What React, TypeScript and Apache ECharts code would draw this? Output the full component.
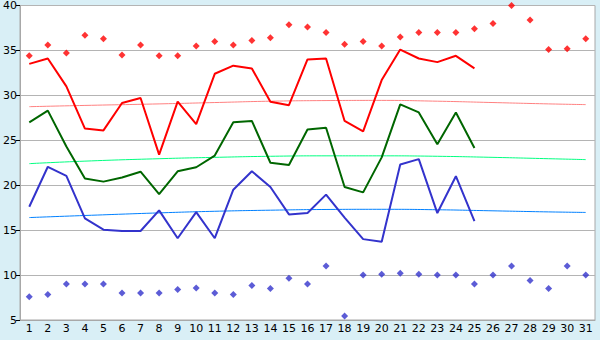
import React, { useEffect, useRef } from "react";
import * as echarts from "echarts";

const days = ["1","2","3","4","5","6","7","8","9","10","11","12","13","14","15","16","17","18","19","20","21","22","23","24","25","26","27","28","29","30","31"];
const yTicks = { min: 5, max: 40, interval: 5 };

const maxLine = [33.5, 34.1, 31.0, 26.3, 26.1, 29.15, 29.7, 23.4, 29.3, 26.8, 32.4, 33.3, 33.0, 29.3, 28.9, 34.0, 34.1, 27.15, 26.0, 31.7, 35.1, 34.1, 33.7, 34.4, 33.0];
const avgLine = [27.0, 28.3, 24.3, 20.75, 20.4, 20.85, 21.5, 19.0, 21.55, 22.0, 23.3, 27.0, 27.15, 22.5, 22.25, 26.2, 26.4, 19.8, 19.2, 23.1, 29.0, 28.1, 24.55, 28.1, 24.15];
const minLine = [17.6, 22.05, 21.05, 16.3, 15.05, 14.9, 14.9, 17.2, 14.1, 17.0, 14.1, 19.5, 21.55, 19.8, 16.75, 16.9, 18.95, 16.4, 14.0, 13.7, 22.3, 22.9, 16.9, 21.0, 16.0];

const maxPoints = [34.4, 35.6, 34.7, 36.7, 36.3, 34.5, 35.6, 34.4, 34.4, 35.5, 36.0, 35.6, 36.1, 36.4, 37.85, 37.6, 37.0, 35.7, 36.0, 35.5, 36.5, 37.0, 37.0, 37.0, 37.4, 38.0, 40.0, 38.4, 35.1, 35.2, 36.3];
const minPoints = [7.6, 7.85, 9.0, 9.0, 9.0, 8.0, 8.0, 8.0, 8.4, 8.55, 8.0, 7.85, 8.85, 8.5, 9.65, 9.0, 11.0, 5.45, 10.0, 10.1, 10.2, 10.1, 10.0, 10.0, 9.0, 10.0, 11.0, 9.4, 8.5, 11.0, 10.0];

const trendDays = ["1", "4", "8", "11", "14", "17", "20", "23", "26", "29", "31"];
const redTrend = [28.74, 28.88, 29.05, 29.2, 29.35, 29.42, 29.44, 29.35, 29.2, 29.05, 28.97];
const greenTrend = [22.4, 22.68, 22.95, 23.1, 23.22, 23.27, 23.27, 23.22, 23.1, 22.95, 22.85];
const blueTrend = [16.4, 16.63, 16.92, 17.1, 17.22, 17.3, 17.32, 17.27, 17.15, 17.03, 16.97];

const pair = (vals: number[]) => vals.map((v, i) => [trendDays[i], v]);

export default function App() {
  const ref = useRef<HTMLDivElement>(null);
  useEffect(() => {
    document.body.style.margin = "0";
    const chart = echarts.init(ref.current!, null, { renderer: "svg" });
    const font = "DejaVu Sans";
    const trend = (data: number[], color: string) => ({
      type: "line",
      data: pair(data),
      showSymbol: false,
      smooth: true,
      lineStyle: { color, width: 1 },
      z: 1,
    });
    const line = (data: number[], color: string) => ({
      type: "line",
      data,
      showSymbol: false,
      lineStyle: { color, width: 2 },
      z: 3,
    });
    chart.setOption({
      animation: false,
      backgroundColor: "#d9eff6",
      grid: {
        left: 20, top: 5, width: 575, height: 315,
        show: true, backgroundColor: "#ffffff", borderColor: "#a8a8a8", borderWidth: 1,
      },
      xAxis: {
        type: "category",
        data: days,
        boundaryGap: true,
        axisLine: { lineStyle: { color: "#a8a8a8" } },
        axisTick: { alignWithLabel: true, length: 5, lineStyle: { color: "#000000" } },
        axisLabel: { color: "#000000", fontFamily: font, fontSize: 11, margin: 3, interval: 0 },
        splitLine: { show: false },
      },
      yAxis: {
        type: "value",
        min: yTicks.min, max: yTicks.max, interval: yTicks.interval,
        axisLine: { show: true, lineStyle: { color: "#a8a8a8" } },
        axisTick: { show: true, length: 4, lineStyle: { color: "#000000" } },
        axisLabel: { color: "#000000", fontFamily: font, fontSize: 11, margin: 3 },
        splitLine: { lineStyle: { color: "#b4b4b4", width: 1 } },
      },
      series: [
        trend(redTrend, "#ff8080"),
        trend(greenTrend, "#00ff80"),
        trend(blueTrend, "#0080ff"),
        line(maxLine, "#ff0000"),
        line(avgLine, "#006600"),
        line(minLine, "#3333cc"),
        {
          type: "scatter", data: maxPoints, symbol: "diamond", symbolSize: 7,
          itemStyle: { color: "#ff0000" }, z: 4,
        },
        {
          type: "scatter", data: minPoints, symbol: "diamond", symbolSize: 7,
          itemStyle: { color: "#3333cc" }, z: 4,
        },
      ],
    });
    return () => chart.dispose();
  }, []);
  return <div ref={ref} style={{ position: "fixed", left: 0, top: 0, width: 600, height: 340 }} />;
}
